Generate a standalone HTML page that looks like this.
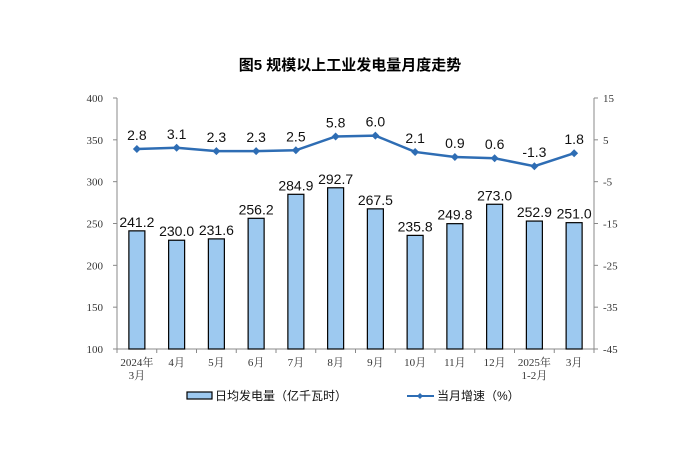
<!DOCTYPE html>
<html><head><meta charset="utf-8">
<style>
body{margin:0;background:#fff;}
svg text{font-family:"Liberation Serif","Noto Serif CJK SC",serif;}
.cn{font-family:"Liberation Sans","Noto Sans CJK SC",sans-serif;}
</style></head>
<body>
<svg id="chart" width="697" height="464" xmlns="http://www.w3.org/2000/svg">
<text class="cn" x="350" y="70" text-anchor="middle" font-size="15" font-weight="bold" fill="#000">图5  规模以上工业发电量月度走势</text>
<g id="g"></g>
</svg>
<script>
const categories=[["2024年","3月"],["4月"],["5月"],["6月"],["7月"],["8月"],["9月"],["10月"],["11月"],["12月"],["2025年","1-2月"],["3月"]];
const barValues=[241.2,230.0,231.6,256.2,284.9,292.7,267.5,235.8,249.8,273.0,252.9,251.0];
const growthValues=[2.8,3.1,2.3,2.3,2.5,5.8,6.0,2.1,0.9,0.6,-1.3,1.8];
const leftTicks=[100,150,200,250,300,350,400];
const rightTicks=[-45,-35,-25,-15,-5,5,15];
const NS="http://www.w3.org/2000/svg";
const g=document.getElementById('g');
const X0=117,X1=594,YT=98,YB=349;
const bw=(X1-X0)/categories.length;
const xc=i=>X0+bw*(i+0.5);
const yL=v=>YB-(v-100)/300*(YB-YT);
const yR=v=>YB-(v+45)/60*(YB-YT);
function mk(t,a,txt){const e=document.createElementNS(NS,t);for(const k in a)e.setAttribute(k,a[k]);if(txt!==undefined)e.textContent=txt;g.appendChild(e);return e;}
let e;
e=mk('line',{x1:X0,y1:YT,x2:X0,y2:YB,stroke:'#888'});


e=mk('line',{x1:X1,y1:YT,x2:X1,y2:YB,stroke:'#888'});


e=mk('line',{x1:X0,y1:YB,x2:X1,y2:YB,stroke:'#888'});


leftTicks.forEach(v=>{
 mk('line',{x1:X0-4,y1:yL(v),x2:X0,y2:yL(v),stroke:'#888'});
 e=mk('text',{x:103,y:yL(v)+4,'text-anchor':'end','font-size':11,fill:'#333'},v);
 
 
});
rightTicks.forEach(v=>{
 mk('line',{x1:X1,y1:yR(v),x2:X1+4,y2:yR(v),stroke:'#888'});
 e=mk('text',{x:603,y:yR(v)+4,'font-size':11,fill:'#333'},v);
 
 
});
for(let i=0;i<=categories.length;i++)mk('line',{x1:X0+bw*i,y1:YB,x2:X0+bw*i,y2:YB+4,stroke:'#888'});
categories.forEach((c,i)=>{
 c.forEach((s,j)=>{
  e=mk('text',{x:xc(i),y:366+j*13,'text-anchor':'middle','font-size':11,fill:'#333'},s);
  
  
 });
});
barValues.forEach((v,i)=>{
 e=mk('rect',{x:xc(i)-8,y:yL(v),width:16,height:YB-yL(v),fill:'#9dc9f0',stroke:'#000','stroke-width':1.2});
 
 
 e=mk('text',{x:xc(i),y:yL(v)-4,'text-anchor':'middle','font-size':14,fill:'#111',class:'cn'},v.toFixed(1));
 
 
});
e=mk('polyline',{points:growthValues.map((v,i)=>xc(i)+','+yR(v)).join(' '),fill:'none',stroke:'#2e6db4','stroke-width':2.5});


growthValues.forEach((v,i)=>{
 const x=xc(i),y=yR(v);
 e=mk('polygon',{points:`${x},${y-4} ${x+4},${y} ${x},${y+4} ${x-4},${y}`,fill:'#2e6db4'});
 
 
 e=mk('text',{x:x,y:y-9,'text-anchor':'middle','font-size':14,fill:'#111',class:'cn'},v.toFixed(1));
 
 
});
e=mk('rect',{x:187,y:392,width:25,height:7,fill:'#9dc9f0',stroke:'#000','stroke-width':1.2});


e=mk('text',{x:215,y:400,'font-size':12,fill:'#111',class:'cn'},'日均发电量（亿千瓦时）');


e=mk('line',{x1:407,y1:396,x2:434,y2:396,stroke:'#2e6db4','stroke-width':2});


mk('polygon',{points:'420,393 423,396 420,399 417,396',fill:'#2e6db4'});
e=mk('text',{x:437,y:400,'font-size':12,fill:'#111',class:'cn'},'当月增速（%）');


</script>
</body></html>
